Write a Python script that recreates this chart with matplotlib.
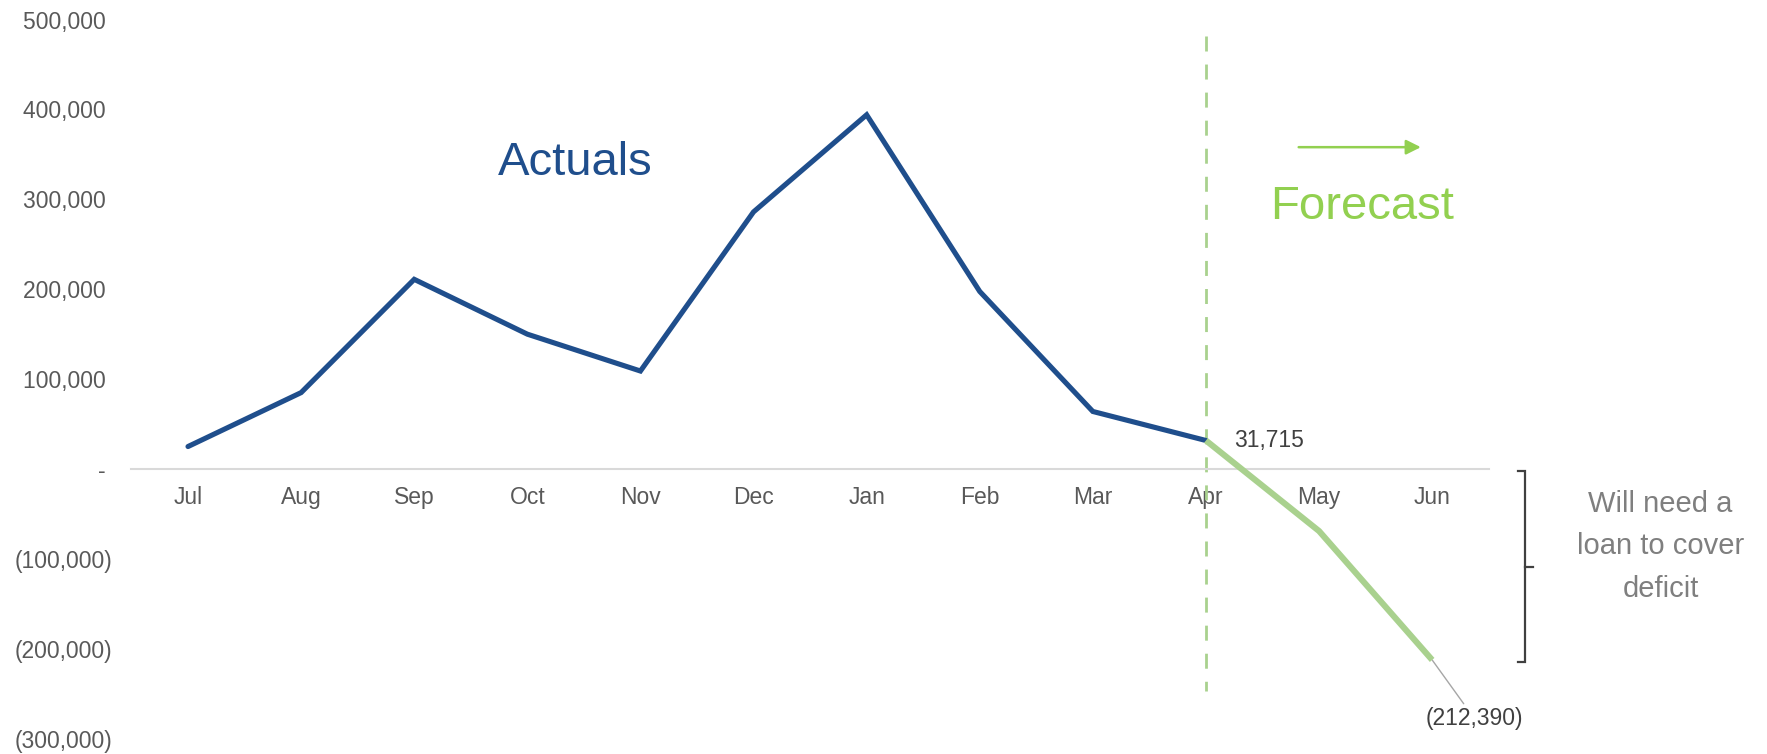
import matplotlib.pyplot as plt
import numpy as np
from matplotlib.ticker import FixedLocator, FuncFormatter

plt.rcParams['font.family'] = ['Liberation Sans', 'DejaVu Sans']

MONTHS = ["Jul", "Aug", "Sep", "Oct", "Nov", "Dec", "Jan", "Feb", "Mar", "Apr", "May", "Jun"]
ACTUAL_MONTHS = MONTHS[:10]
ACTUAL_VALUES = [25000, 85000, 211000, 150000, 109000, 286000, 394000, 197500, 64000, 31715]
FORECAST_MONTHS = ["Apr", "May", "Jun"]
FORECAST_VALUES = [31715, -69000, -212390]
Y_TICKS = [-300000, -200000, -100000, 0, 100000, 200000, 300000, 400000, 500000]

BLUE = "#1F4E8C"
LIGHT_GREEN = "#A9D18E"
BRIGHT_GREEN = "#92D050"
TICK_GREY = "#595959"


def acct_fmt(v, pos=None):
    # excel accounting style: positives padded for the missing ")"
    if v > 0:
        return f"{v:,.0f} "
    if v < 0:
        return f"({-v:,.0f})"
    return "- "


fig = plt.figure(figsize=(17.67, 7.54), dpi=100)
ax = fig.add_axes([0.0744, 0.0203, 0.7681, 0.9538])

x_act = [MONTHS.index(m) for m in ACTUAL_MONTHS]
x_fc = [MONTHS.index(m) for m in FORECAST_MONTHS]

ax.plot(x_act, ACTUAL_VALUES, color=BLUE, lw=3.7, solid_capstyle="round",
        solid_joinstyle="miter", zorder=3)
ax.plot(x_fc, FORECAST_VALUES, color=LIGHT_GREEN, lw=4.4, solid_capstyle="butt", zorder=4)

apr = MONTHS.index("Apr")
ax.plot([apr, apr], [482000, -247000], color=LIGHT_GREEN, lw=2,
        dashes=(5.4, 4.7), zorder=2)

ax.set_xlim(-0.5, len(MONTHS) - 0.5)
ax.set_ylim(-300000, 500000)
ax.set_xticks(range(len(MONTHS)))
ax.set_xticklabels(MONTHS)
ax.yaxis.set_major_locator(FixedLocator(Y_TICKS))
ax.yaxis.set_major_formatter(FuncFormatter(acct_fmt))

for side in ["top", "right", "left"]:
    ax.spines[side].set_visible(False)
ax.spines["bottom"].set_position(("data", 0))
ax.spines["bottom"].set_color("#D9D9D9")
ax.spines["bottom"].set_linewidth(1.5)
ax.tick_params(axis="x", length=0, pad=12, labelsize=16.5, labelcolor=TICK_GREY)
ax.tick_params(axis="y", length=0, pad=14, labelsize=16.5, labelcolor=TICK_GREY)

# annotations
ax.text(3.42, 327000, "Actuals", color=BLUE, fontsize=34, ha="center", va="baseline")
ax.text(10.38, 278000, "Forecast", color=BRIGHT_GREEN, fontsize=34, ha="center", va="baseline")
ax.annotate("", xy=(10.90, 358000), xytext=(9.82, 358000),
            arrowprops=dict(arrowstyle="-|>", color=BRIGHT_GREEN, lw=1.8,
                            mutation_scale=22, shrinkA=0, shrinkB=0))

ax.text(9.25, ACTUAL_VALUES[-1], f"{ACTUAL_VALUES[-1]:,}", color="#404040",
        fontsize=16.5, ha="left", va="center")
ax.annotate(f"({-FORECAST_VALUES[-1]:,})", xy=(x_fc[-1], FORECAST_VALUES[-1]),
            xytext=(11.37, -277000), color="#404040", fontsize=16.5,
            ha="center", va="center", annotation_clip=False,
            arrowprops=dict(arrowstyle="-", color="#A6A6A6", lw=1.0,
                            shrinkA=0, shrinkB=0))

# bracket for the deficit
bx = 11.82
ax.plot([bx - 0.06, bx, bx, bx - 0.06], [-2000, -2000, -215000, -215000],
        color="#404040", lw=1.6, clip_on=False, solid_joinstyle="miter")
ax.plot([bx, bx + 0.07], [-109000, -109000], color="#404040", lw=1.6, clip_on=False)
ax.text(13.02, -86000, "Will need a\nloan to cover\ndeficit", color="#7F7F7F",
        fontsize=21, ha="center", va="center", linespacing=1.65, clip_on=False)

fig.savefig("out.png", dpi=100)
